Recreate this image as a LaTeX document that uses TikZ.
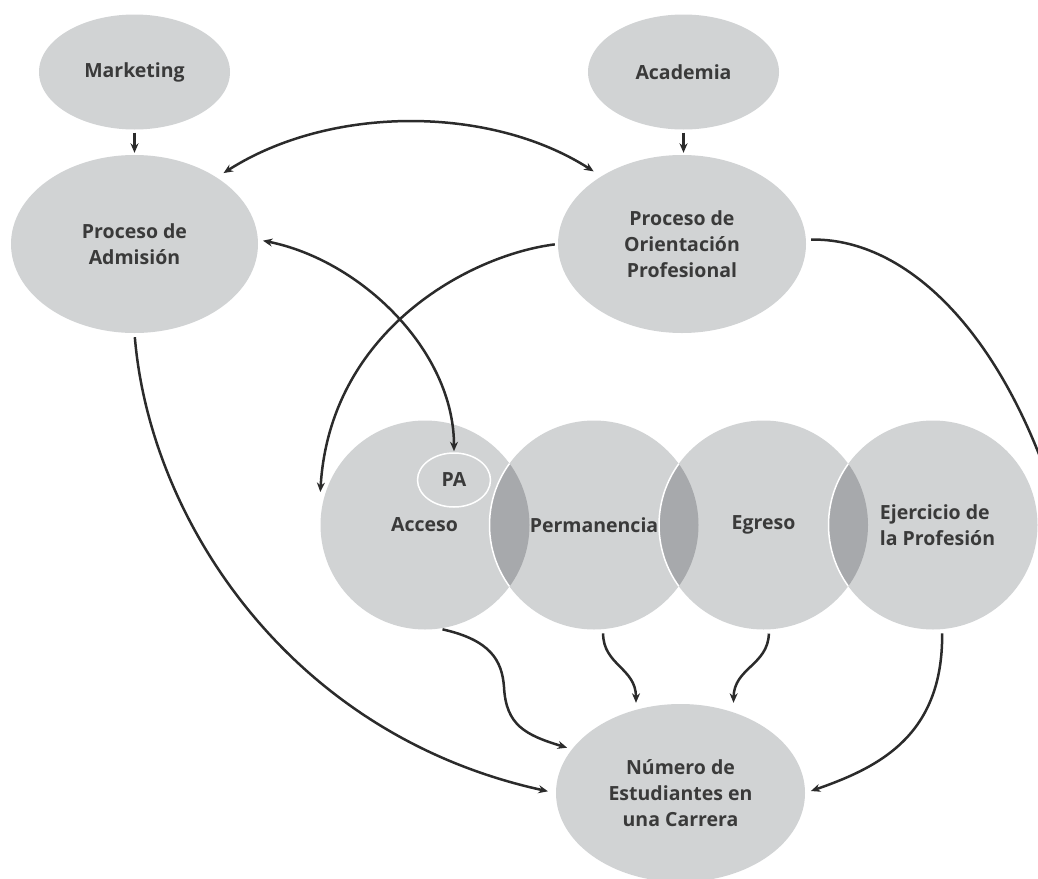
\documentclass[tikz,border=0pt]{standalone}
\usepackage{fontspec}
\setmainfont{Open Sans}
\usetikzlibrary{arrows.meta,shapes.geometric}
\definecolor{lgrey}{HTML}{D1D3D4}
\definecolor{dgrey}{HTML}{A7A9AC}
\definecolor{txt}{HTML}{3A3A3A}
\definecolor{ln}{HTML}{2B2B2B}
\begin{document}
\begin{tikzpicture}[x=1pt,y=-1pt,
  lbl/.style={font=\bfseries\fontsize{19.5}{26}\selectfont, text=txt, align=center},
  oval/.style={ellipse, fill=lgrey, inner sep=0pt, lbl},
  smallov/.style={oval, minimum width=191pt, minimum height=115pt},
  bigov/.style={oval, minimum width=248pt, minimum height=178pt},
  circ/.style={circle, fill=lgrey, minimum size=209pt, inner sep=0pt},
  lens/.style={fill=dgrey, draw=white, line width=1.5pt},
  wire/.style={draw=ln, line width=2.5pt},
  conn/.style={wire, -{Stealth[length=9.5pt,width=8pt]}},
  dconn/.style={wire, {Stealth[length=9.5pt,width=8pt]}-{Stealth[length=9.5pt,width=8pt]}},
]
\useasboundingbox (0,0) rectangle (1038,878);

% upper ovals
\node[smallov] (mk) at (134.5,72) {Marketing};
\node[smallov] (ac) at (683.5,72) {Academia};
\node[bigov, minimum width=247pt] (adm) at (134.5,244) {Proceso de\\Admisión};
\node[bigov] (ori) at (682,244) {Proceso de\\Orientación\\Profesional};
\node[bigov, minimum width=249pt] (num) at (680.5,793) {Número de\\Estudiantes en\\una Carrera};

% stage circles
\node[circ] (acc) at (425,525) {};
\node[circ] (per) at (594,525) {};
\node[circ] (egr) at (763.5,525) {};
\node[circ] (eje) at (933,525) {};

% overlaps
\begin{scope}
  \clip (acc.center) circle[radius=104.5pt];
  \path[lens] (per.center) circle[radius=104.5pt];
\end{scope}
\begin{scope}
  \clip (per.center) circle[radius=104.5pt];
  \path[lens] (egr.center) circle[radius=104.5pt];
\end{scope}
\begin{scope}
  \clip (egr.center) circle[radius=104.5pt];
  \path[lens] (eje.center) circle[radius=104.5pt];
\end{scope}

% circle labels
\node[lbl] (accT) at (424.5,525) {Acceso};
\node[lbl] (perT) at (594,525) {Permanencia};
\node[lbl] (egrT) at (763.5,524.5) {Egreso};
\node[lbl, align=left] (ejeT) at (937.5,525) {Ejercicio de\\la Profesión};
\node[ellipse, fill=lgrey, draw=white, line width=1.5pt, minimum width=73pt,
      minimum height=54pt, inner sep=0pt, lbl] (pa) at (454,480) {PA};

% connectors
\draw[conn, shorten <=3pt, shorten >=2pt] (mk.south) -- (adm.north);
\draw[conn, shorten <=3pt, shorten >=2pt] (ac.south) -- (ac.south |- ori.north);
\draw[dconn, shorten <=8pt, shorten >=9pt] (adm.39) .. controls (330,105) and (490,105) .. (ori.140.6);
\draw[dconn, shorten <=5pt, shorten >=1pt] (adm.2) .. controls (360,260) and (454,350) .. (pa.north);
\draw[conn, shorten <=3pt] (ori.west) .. controls (470,255) and (330,330) .. ([yshift=33pt]acc.west);
\coordinate (rimE) at (1045,470);
\draw[wire, shorten <=5pt] (ori.2) .. controls (900,238) and (990,320) .. (rimE);
\draw[conn, shorten <=4pt, shorten >=8pt] (adm.south) .. controls (150,520) and (290,735) .. (num.west);
\draw[conn, shorten <=3pt, shorten >=5pt] (acc.-82) .. controls (490,640) and (502,660) .. (504,687)
   .. controls (506,725) and (525,735) .. (num.158);
\draw[conn, shorten <=4pt] (per.-85) .. controls (603,665) and (636,668) .. ([xshift=-44.5pt,yshift=1pt]num.north);
\draw[conn, shorten <=4pt] (egr.-87.5) .. controls (768,665) and (734,668) .. ([xshift=53pt,yshift=1pt]num.north);
\draw[conn, shorten <=4pt, shorten >=6pt] (eje.-85) .. controls (943,735) and (880,767) .. (num.east);
\end{tikzpicture}
\end{document}
